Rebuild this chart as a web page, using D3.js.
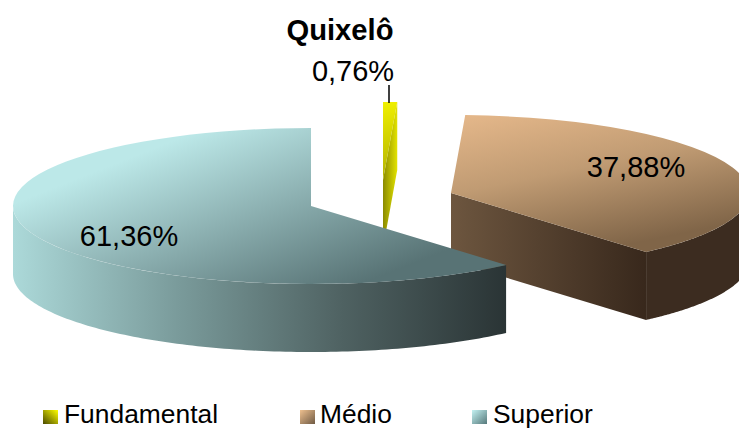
<!DOCTYPE html>
<html><head><meta charset="utf-8">
<script src="https://cdn.jsdelivr.net/npm/d3@7"></script>
<style>html,body{margin:0;padding:0;background:#fff;overflow:hidden}svg{display:block}text{font-family:"Liberation Sans",Arial,sans-serif;fill:#000}</style>
</head><body><svg id="c" width="739" height="429"></svg>
<script>
const categories = ["Fundamental","Médio","Superior"];
const values = [0.76,37.88,61.36];
const valueLabels = ["0,76%","37,88%","61,36%"];
const title = "Quixelô";
const W=739,H=429, RX=298, RY=78, DEPTH=68;
const centers = [[383,180],[451,193],[311,206]];
const svg=d3.select("#c");
const defs=svg.append("defs");
function grad(id,stops,x1,y1,x2,y2,user){
  const g=defs.append("linearGradient").attr("id",id).attr("x1",x1).attr("y1",y1).attr("x2",x2).attr("y2",y2);
  if(user) g.attr("gradientUnits","userSpaceOnUse");
  stops.forEach((c,k)=>g.append("stop").attr("offset",k/(stops.length-1)).attr("stop-color",c));
}
grad("top0",["#f0f000","#b0b000"],383,102,397,180,true);
grad("top1",["#e9bb8d","#c09b73","#806548"],465,105,499,271,true);
grad("top2",["#bce8e8","#587375"],310,87,384,275,true);
grad("wall0",["#e0e000","#e0e000"],0,0,1,0);
grad("wall1",["#3c2c20","#3c2c20"],0,0,1,0);
grad("wall2",["#acd9d9","#7a9b9b","#4f6262","#2a3435"],13,0,506,0,true);
grad("cut0",["#8a8a00","#e2e200"],383,0,397,0,true);
grad("cut1",["#6d563f","#38281c"],451,0,646,0,true);
grad("sw0",["#ffff00","#4a4a00"],1,0,0,1);
grad("sw1",["#eec08f","#6f5a44"],0,0,1,1);
grad("sw2",["#c4f2f2","#56797b"],0,0,1,1);
const pie=d3.pie().sort(null).value(d=>d)(values);
const arcGen=d3.arc().innerRadius(0).outerRadius(RX);
const px=(i,a)=>centers[i][0]+RX*Math.sin(a);
const py=(i,a)=>centers[i][1]-RY*Math.cos(a);
defs.append("clipPath").attr("id","page").append("rect").attr("width",W).attr("height",H);
const root=svg.append("g").attr("clip-path","url(#page)");
const line=d3.line();
const wallArea=i=>d3.area().x(a=>px(i,a)).y0(a=>py(i,a)).y1(a=>py(i,a)+DEPTH);
function cut(g,i,a){
  const [cx,cy]=centers[i];
  const pts=[[cx,cy],[px(i,a),py(i,a)],[px(i,a),py(i,a)+DEPTH],[cx,cy+DEPTH]];
  g.append("path").attr("d",line(pts)+"Z").attr("fill",`url(#cut${i})`);
}
[1,0,2].forEach(i=>{
  const p=pie[i]; const g=root.append("g");
  const a0=p.startAngle,a1=p.endAngle;
  const w0=Math.max(a0,Math.PI/2), w1=Math.min(a1,3*Math.PI/2);
  if(w1>w0){
    g.append("path").attr("d",wallArea(i)(d3.range(0,121).map(k=>w0+(w1-w0)*k/120))).attr("fill",`url(#wall${i})`);
  }
  if(i<2) cut(g,i,a1);
  g.append("path").attr("d",arcGen(p)).attr("transform",`translate(${centers[i]}) scale(1,${RY/RX})`).attr("fill",`url(#top${i}u)`);
});
["top0","top1","top2"].forEach(id=>{
  const s=d3.select("#"+id), k=RY/RX;
  const u=defs.append("linearGradient").attr("id",id+"u").attr("href","#"+id).attr("gradientUnits","userSpaceOnUse");
  const i=+id[3];
  u.attr("gradientTransform",`scale(1,${1/k}) translate(${-centers[i][0]},${-centers[i][1]})`);
  ["x1","y1","x2","y2"].forEach(a=>u.attr(a,s.attr(a)));
});
svg.append("line").attr("x1",389).attr("x2",389).attr("y1",85).attr("y2",103).attr("stroke","#000").attr("stroke-width",1.5);
svg.append("text").attr("x",340).attr("y",39.5).attr("text-anchor","middle").attr("font-weight","bold").attr("font-size",29.2).text(title);
const labelPos=[[353,81],[636,177],[129,246]];
valueLabels.forEach((t,i)=>svg.append("text").attr("x",labelPos[i][0]).attr("y",labelPos[i][1]).attr("text-anchor","middle").attr("font-size",29).text(t));
const swX=[43,300,472], txX=[64,320,493];
categories.forEach((t,i)=>{
  svg.append("rect").attr("x",swX[i]).attr("y",410).attr("width",15).attr("height",14).attr("fill",`url(#sw${i})`);
  svg.append("text").attr("x",txX[i]).attr("y",423.4).attr("font-size",26.4).text(t);
});
</script></body></html>
